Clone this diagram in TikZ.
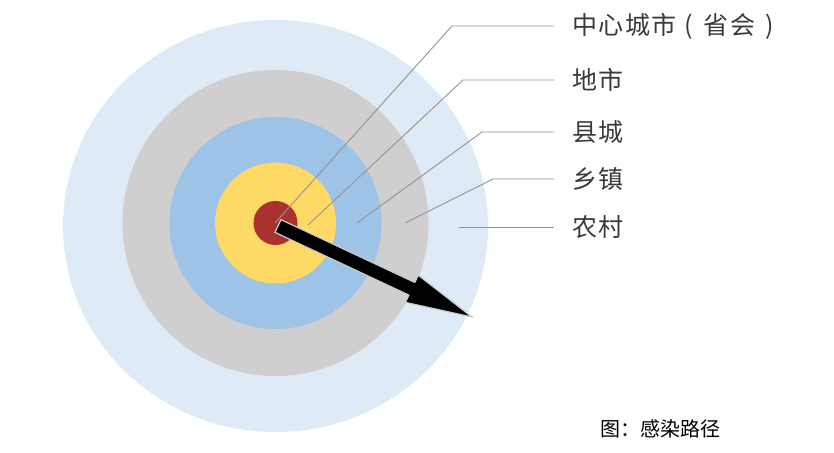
\documentclass[tikz,border=0pt]{standalone}
\usepackage{fontspec}
\setmainfont{Noto Sans CJK SC}
\newfontfamily\labfont[LetterSpace=6]{Noto Sans CJK SC}
\usetikzlibrary{calc}
\definecolor{ringcun}{HTML}{DEEAF6}
\definecolor{ringzhen}{HTML}{D0CECE}
\definecolor{ringxian}{HTML}{9DC3E6}
\definecolor{ringshi}{HTML}{FFD966}
\definecolor{ringzx}{HTML}{A93230}
\definecolor{labgray}{HTML}{3A3A3A}
\definecolor{leadgray}{HTML}{939393}

\begin{document}
\begin{tikzpicture}[x=1pt,y=-1pt,
    lead/.style={draw=leadgray,line width=0.9pt},
    lab/.style={anchor=west,inner xsep=18pt,inner ysep=0pt,text=labgray,font=\labfont\fontsize{25}{28}\selectfont}]
    \useasboundingbox (0,0) rectangle (834,452);
    \coordinate (c) at (275.5,223);
    \fill[ringcun] (275.5,226) ellipse [x radius=212.5pt,y radius=206pt];
    \fill[ringzhen] (c) circle (153pt);
    \fill[ringxian] (c) circle (106pt);
    \fill[ringshi] (c) circle (60.5pt);
    \fill[ringzx] (c) circle (22pt);
    \node[lab] (zx) at (554,26) {中心城市\kern0.3em(\kern0.45em省会\kern0.4em)};
    \node[lab] (ds) at (554,80) {地市};
    \node[lab] (xc) at (554,132) {县城};
    \node[lab] (xz) at (554,179) {乡镇};
    \node[lab] (nc) at (554,227) {农村};
    \coordinate (p1) at (275,223);
    \coordinate (p2) at (308,225);
    \coordinate (p3) at (357,223);
    \coordinate (p4) at (405,223);
    \coordinate (p5) at (459,227);
    \coordinate (k1) at (452,26);
    \coordinate (k2) at (463,80);
    \coordinate (k3) at (482,132);
    \coordinate (k4) at (493,179);
    \draw[lead] (p1) -- (k1) -- (zx.west);
    \draw[lead] (p2) -- (k2) -- (ds.west);
    \draw[lead] (p3) -- (k3) -- (xc.west);
    \draw[lead] (p4) -- (k4) -- (xz.west);
    \draw[lead] (p5) -- (nc.west);
    \coordinate (t0) at (278,226);
    \coordinate (t1) at (472,317);
    \coordinate (hb) at ($(t0)!0.69!(t1)$);
    \filldraw[fill=black,draw=white!80!black,line width=1.2pt,line join=miter]
        ($(t0)!7pt!90:(t1)$) -- ($(hb)!7pt!-90:(t0)$) -- ($(hb)!15pt!-90:(t0)$) -- (t1)
        -- ($(hb)!15pt!90:(t0)$) -- ($(hb)!7pt!90:(t0)$) -- ($(t0)!7pt!-90:(t1)$) -- cycle;
    \node[font=\fontsize{20}{23}\selectfont,text=black] (cap) at (660,429) {图：感染路径};
\end{tikzpicture}
\end{document}
